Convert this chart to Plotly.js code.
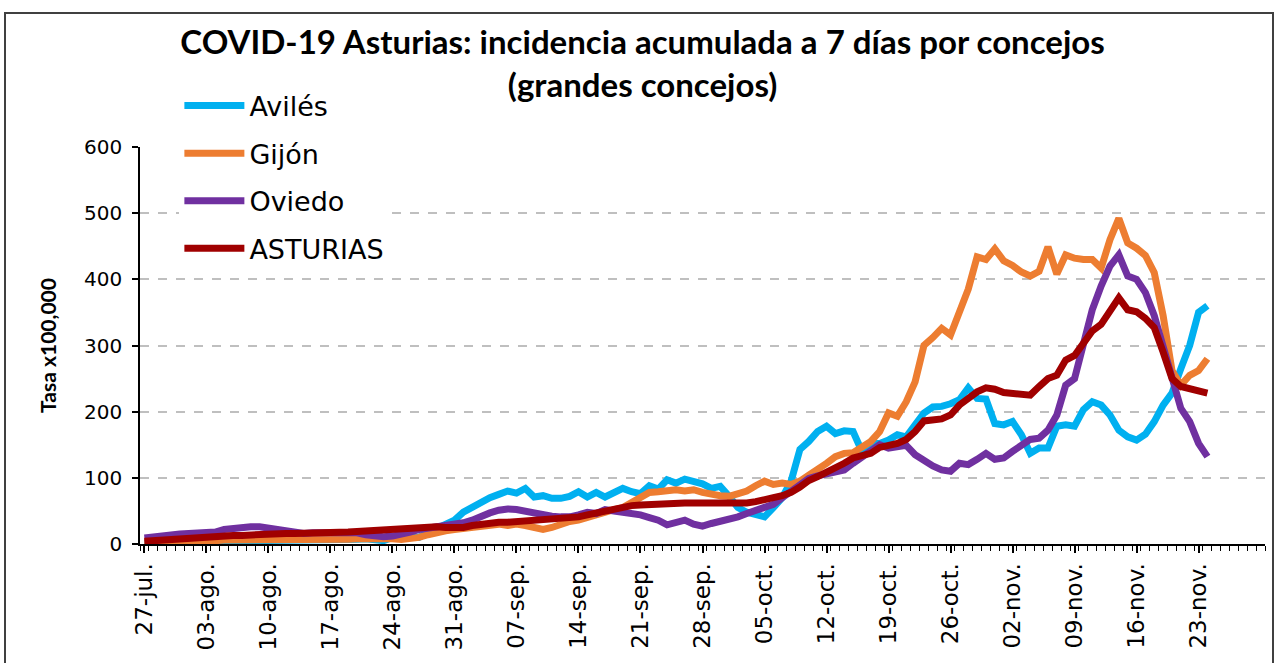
<!DOCTYPE html>
<html>
<head>
<meta charset="utf-8">
<script src="https://cdn.plot.ly/plotly-3.0.1.min.js"></script>
<style>
  html, body { margin: 0; padding: 0; background: #ffffff; }
  #frame { position: absolute; left: 4px; top: 12px; width: 1270px; height: 700px; border: 2px solid #404040; box-sizing: border-box; pointer-events: none; z-index: 5; }
  #chart { position: absolute; left: 0; top: 0; width: 1280px; height: 663px; }
</style>
</head>
<body>
<div id="chart"></div>
<div id="frame"></div>
<script>
// ---- data (27-jul-2020 .. 24-nov-2020, daily) ----
const startDate = '2020-07-27';

const aviles = [
  2, 2, 3, 3, 3, 3, 3,
  4, 4, 4, 4, 4, 5, 5,
  5, 5, 5, 5, 6, 6, 7,
  6, 5, 6, 7, 8, 7, 5,
  10, 13, 12, 10, 17, 24, 30, 36,
  48, 56, 62, 70, 75, 80, 77, 84, 71,
  73, 69, 69, 72, 79, 71,
  78, 71, 78, 84, 79, 76, 88,
  83, 97, 92, 98, 95, 91, 84, 87, 72,
  55, 48, 45, 41, 55, 70, 95,
  143, 155, 170, 178, 167, 171, 170,
  140, 152, 152, 157, 165, 162, 180,
  198, 207, 208, 212, 218, 236, 220, 219,
  182, 180, 185, 165, 137, 145, 145,
  178, 180, 178, 203, 215, 210, 195,
  172, 162, 157, 166, 185, 210, 228,
  265, 300, 350, 360
];

const gijon = [
  3, 3, 3, 4, 4, 4, 5,
  5, 5, 6, 6, 6, 5, 5,
  5, 5, 5, 6, 6, 6, 7,
  7, 7, 7, 8, 8, 9, 10,
  8, 7, 8, 10, 14, 18, 20, 22,
  24, 26, 27, 28, 30, 28, 30, 28, 24,
  22, 25, 30, 34, 36, 40,
  44, 50, 52, 55, 62, 70, 78,
  79, 80, 82, 80, 82, 78, 75, 73, 72,
  77, 80, 88, 95, 90, 92, 90,
  95, 104, 112, 122, 132, 137, 138,
  146, 155, 170, 198, 193, 215, 245,
  300, 312, 326, 316, 350, 385, 434, 430,
  446, 428, 421, 411, 405, 412, 449,
  408, 437, 432, 430, 430, 417, 460,
  492, 455, 447, 436, 410, 345, 262,
  240, 255, 262, 280
];

const oviedo = [
  9, 11, 12, 14, 15, 16, 16,
  16, 18, 22, 24, 25, 26, 26,
  24, 21, 18, 16, 16, 17, 17,
  17, 17, 16, 17, 14, 12, 11,
  12, 14, 18, 22, 24, 25, 26, 28,
  32, 36, 42, 47, 51, 53, 52, 49, 46,
  43, 42, 41, 41, 44, 48,
  46, 52, 50, 48, 48, 44, 40,
  36, 29, 33, 36, 30, 27, 31, 34, 37,
  41, 46, 50, 56, 60, 70, 80,
  90, 99, 103, 106, 108, 112, 122,
  132, 140, 150, 145, 147, 149, 135,
  125, 118, 112, 110, 122, 120, 128, 137,
  128, 130, 140, 150, 158, 160, 172,
  195, 240, 250, 300, 354, 390, 420,
  437, 405, 400, 380, 345, 300, 250,
  205, 185, 152, 132
];

const asturias = [
  4, 5, 7, 8, 9, 10, 11,
  11, 12, 12, 13, 13, 14, 14,
  15, 15, 16, 16, 16, 17, 17,
  17, 18, 18, 19, 20, 21, 22,
  23, 23, 24, 25, 25, 26, 25, 24,
  25, 28, 30, 32, 33, 33, 34, 35, 35,
  36, 37, 38, 39, 41, 44,
  47, 50, 53, 56, 58, 59, 60,
  60, 61, 62, 62, 62, 62, 61, 61, 60,
  61, 62, 64, 66, 70, 73, 78,
  86, 96, 102, 108, 115, 122, 130,
  133, 137, 146, 148, 152, 158, 170,
  186, 187, 189, 195, 210, 220, 230, 236,
  234, 229, 228, 225, 225, 238, 250,
  255, 278, 285, 302, 322, 332, 350,
  372, 354, 351, 341, 327, 290, 250,
  238, 235, 230, 228
];

const seriesNames = ['Avilés', 'Gijón', 'Oviedo', 'ASTURIAS'];
const seriesColors = ['#00b0f0', '#ed7d31', '#7030a0', '#a00000'];

const tickDates = ['2020-07-27', '2020-08-03', '2020-08-10', '2020-08-17', '2020-08-24', '2020-08-31',
  '2020-09-07', '2020-09-14', '2020-09-21', '2020-09-28', '2020-10-05', '2020-10-12', '2020-10-19',
  '2020-10-26', '2020-11-02', '2020-11-09', '2020-11-16', '2020-11-23'];
const tickLabels = ['27-jul.', '03-ago.', '10-ago.', '17-ago.', '24-ago.', '31-ago.', '07-sep.', '14-sep.',
  '21-sep.', '28-sep.', '05-oct.', '12-oct.', '19-oct.', '26-oct.', '02-nov.', '09-nov.', '16-nov.', '23-nov.'];

const yTicks = [0, 100, 200, 300, 400, 500, 600];

// ---- build dates ----
function buildDates(start, n) {
  const out = [];
  const d0 = new Date(start + 'T00:00:00Z');
  for (let i = 0; i < n; i++) {
    const d = new Date(d0.getTime() + i * 86400000);
    out.push(d.toISOString().slice(0, 10));
  }
  return out;
}

const allSeries = [aviles, gijon, oviedo, asturias];
const traces = allSeries.map((vals, k) => ({
  type: 'scatter',
  mode: 'lines',
  name: seriesNames[k],
  legendgroup: seriesNames[k],
  x: buildDates(startDate, vals.length),
  y: vals,
  line: { color: seriesColors[k], width: 7, shape: 'linear' },
  hoverinfo: 'x+y+name'
}));

const layout = {
  width: 1280,
  height: 663,
  paper_bgcolor: '#ffffff',
  plot_bgcolor: '#ffffff',
  margin: { l: 140, r: 15, t: 147, b: 119, pad: 0 },
  title: {
    text: '<b>COVID-19 Asturias: incidencia acumulada a 7 días por concejos<br>(grandes concejos)</b>',
    font: { family: 'Lato, "Open Sans", sans-serif', size: 33, color: '#000000' },
    x: 0.502, xref: 'container', xanchor: 'center',
    y: 0.918, yref: 'container', yanchor: 'top',
    automargin: false
  },
  showlegend: true,
  legend: {
    x: 0.035, xanchor: 'left',
    y: 1.165, yanchor: 'top',
    bgcolor: '#ffffff',
    borderwidth: 0,
    font: { family: '"DejaVu Sans", sans-serif', size: 27, color: '#000000' },
    traceorder: 'grouped',
    tracegroupgap: 9.5,
    itemwidth: 60
  },
  shapes: [{
    // white legend backdrop hiding the gridlines behind the legend area
    type: 'rect', xref: 'paper', yref: 'paper', layer: 'between',
    x0: 0.002, x1: 0.244, y0: 0.70, y1: 1.0,
    fillcolor: '#ffffff', line: { width: 0 }
  }],
  xaxis: {
    type: 'date',
    range: ['2020-07-26 12:00', '2020-11-30 12:00'],
    tickmode: 'array',
    tickvals: tickDates,
    ticktext: tickLabels,
    tickangle: -90,
    tickfont: { family: '"DejaVu Sans", sans-serif', size: 23, color: '#000000' },
    ticks: 'outside', ticklen: 7, tickwidth: 1.5, tickcolor: '#000000',
    ticklabelstandoff: 1,
    minor: { ticks: 'outside', ticklen: 5, tickwidth: 1, tickcolor: '#000000',
             tick0: '2020-07-26 12:00', dtick: 86400000, showgrid: false },
    showline: true, linecolor: '#000000', linewidth: 2,
    showgrid: false, zeroline: false,
    fixedrange: true
  },
  yaxis: {
    range: [0, 600],
    tickmode: 'array',
    tickvals: yTicks,
    ticktext: yTicks.map(String),
    tickfont: { family: '"DejaVu Sans", sans-serif', size: 20, color: '#000000' },
    ticks: 'outside', ticklen: 6, tickwidth: 1.5, tickcolor: '#000000',
    ticklabelstandoff: 6,
    showline: true, linecolor: '#000000', linewidth: 1.5,
    showgrid: true, gridcolor: '#bfbfbf', gridwidth: 1.5, griddash: 'dash',
    zeroline: false,
    title: { text: '<b>Tasa x100,000</b>', font: { family: 'Lato, sans-serif', size: 21, color: '#000000' }, standoff: 22 },
    fixedrange: true
  }
};

Plotly.newPlot('chart', traces, layout, { displayModeBar: false, staticPlot: false });
</script>
</body>
</html>
